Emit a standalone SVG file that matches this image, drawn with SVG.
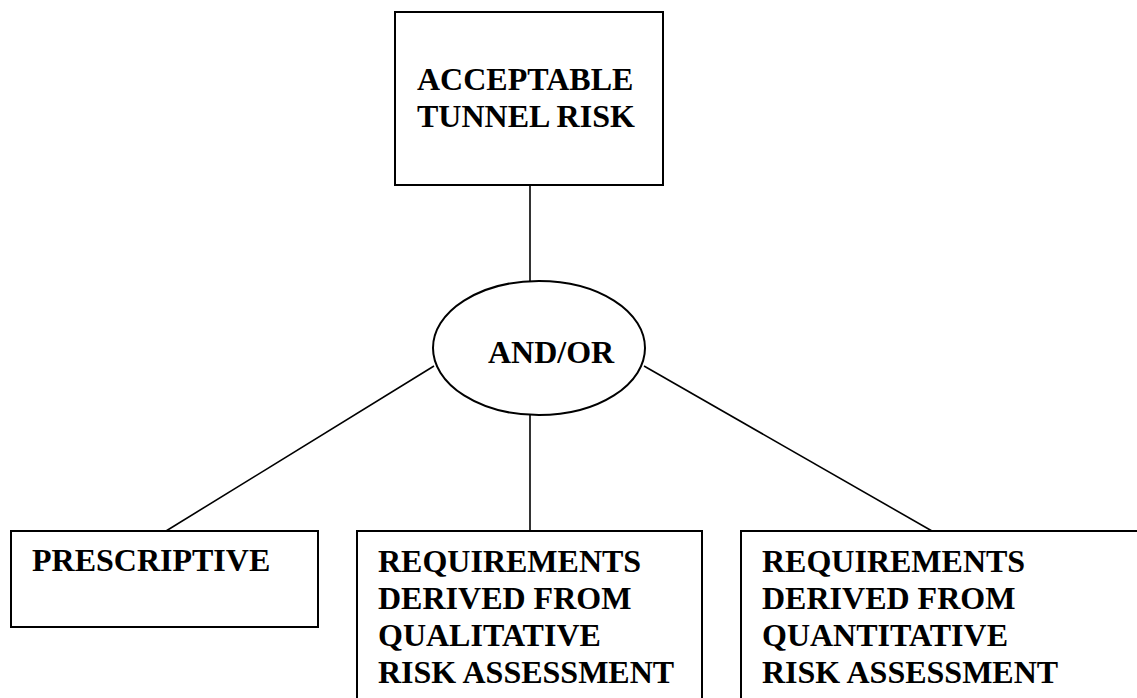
<svg xmlns="http://www.w3.org/2000/svg" width="1137" height="698" viewBox="0 0 1137 698">
<style>
.box{fill:#fff;stroke:#000;stroke-width:2}
.conn{stroke:#000;stroke-width:1.6;fill:none}
.t{font-family:"Liberation Serif","Times New Roman",serif;font-weight:bold;font-size:32px;fill:#000}
</style>
<rect width="1137" height="698" fill="#fff"/>
<g id="connectors">
<line class="conn" x1="530" y1="185" x2="530" y2="282"/>
<line class="conn" x1="434" y1="366" x2="166" y2="531"/>
<line class="conn" x1="530" y1="414" x2="530" y2="531"/>
<line class="conn" x1="644" y1="366" x2="932" y2="531"/>
</g>
<g id="n-top">
<rect class="box" x="395" y="12" width="268" height="173"/>
<text class="t" x="417" y="90">ACCEPTABLE</text>
<text class="t" x="417" y="127">TUNNEL RISK</text>
</g>
<g id="n-andor">
<ellipse class="box" cx="539" cy="348" rx="106" ry="67"/>
<text class="t" x="488" y="363">AND/OR</text>
</g>
<g id="n-prescriptive">
<rect class="box" x="11" y="531" width="307" height="96"/>
<text class="t" x="32" y="571">PRESCRIPTIVE</text>
</g>
<g id="n-qualitative">
<rect class="box" x="357" y="531" width="345" height="180"/>
<text class="t" x="378" y="572">REQUIREMENTS</text>
<text class="t" x="378" y="609">DERIVED FROM</text>
<text class="t" x="378" y="646">QUALITATIVE</text>
<text class="t" x="378" y="683">RISK ASSESSMENT</text>
</g>
<g id="n-quantitative">
<rect class="box" x="741" y="531" width="410" height="180"/>
<text class="t" x="762" y="572">REQUIREMENTS</text>
<text class="t" x="762" y="609">DERIVED FROM</text>
<text class="t" x="762" y="646">QUANTITATIVE</text>
<text class="t" x="762" y="683">RISK ASSESSMENT</text>
</g>
</svg>
